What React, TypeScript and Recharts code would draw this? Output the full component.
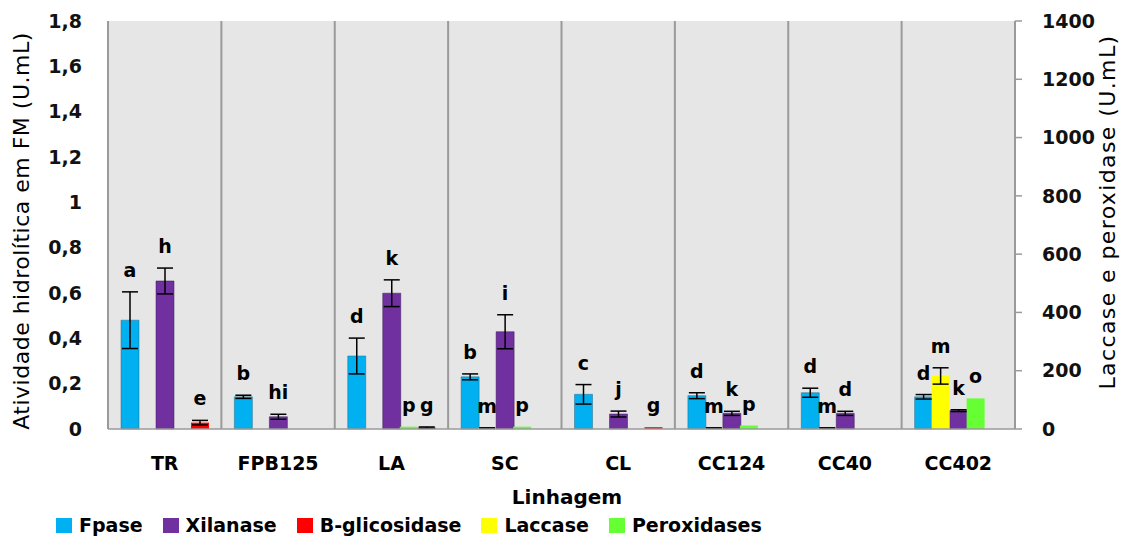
import React from 'react';
import {
  BarChart,
  Bar,
  XAxis,
  YAxis,
  CartesianGrid,
  ErrorBar,
  LabelList,
  Legend,
  ReferenceLine,
} from 'recharts';

const categories = ['TR', 'FPB125', 'LA', 'SC', 'CL', 'CC124', 'CC40', 'CC402'];
const seriesNames = ['Fpase', 'Xilanase', 'B-glicosidase', 'Laccase', 'Peroxidases'];

// Left axis (Atividade hidrolítica, U.mL)
const fpase = [0.48, 0.142, 0.322, 0.23, 0.153, 0.147, 0.16, 0.142];
const fpaseErr = [0.125, 0.007, 0.079, 0.013, 0.043, 0.013, 0.02, 0.01];
const xilanase = [0.653, 0.054, 0.599, 0.429, 0.066, 0.069, 0.069, 0.081];
const xilanaseErr = [0.057, 0.011, 0.059, 0.075, 0.013, 0.009, 0.009, 0.004];
const bglic = [0.028, 0, 0.006, 0, 0.008, 0, 0, 0];
const bglicErr = [0.01, 0, 0.003, 0, 0, 0, 0, 0];

// Right axis (Laccase e peroxidase, U.mL)
const laccase = [0, 0, 0, 3, 0, 3, 3, 182];
const laccaseErr = [0, 0, 0, 1, 0, 1, 1, 28];
const peroxidase = [0, 0, 8, 8, 0, 12, 0, 105];

// Significance letters
const fpaseLetters = ['a', 'b', 'd', 'b', 'c', 'd', 'd', 'd'];
const xilanaseLetters = ['h', 'hi', 'k', 'i', 'j', 'k', 'd', 'k'];
const bglicLetters = ['e', '', 'g', '', 'g', '', '', ''];
const laccaseLetters = ['', '', '', 'm', '', 'm', 'm', 'm'];
const peroxLetters = ['', '', 'p', 'p', '', 'p', '', 'o'];

const leftTicks = [0, 0.2, 0.4, 0.6, 0.8, 1, 1.2, 1.4, 1.6, 1.8];
const rightTicks = [0, 200, 400, 600, 800, 1000, 1200, 1400];

const data = categories.map((c, i) => ({
  name: c,
  fpase: fpase[i],
  fpaseErr: fpaseErr[i],
  fpaseL: fpaseLetters[i],
  xilanase: xilanase[i],
  xilanaseErr: xilanaseErr[i],
  xilanaseL: xilanaseLetters[i],
  bglic: bglic[i],
  bglicErr: bglicErr[i],
  bglicL: bglicLetters[i],
  laccase: laccase[i],
  laccaseErr: laccaseErr[i],
  laccaseL: laccaseLetters[i],
  peroxidase: peroxidase[i],
  peroxL: peroxLetters[i],
}));

const FONT = 'DejaVu Sans';
const GRID = '#9a9a9a';

// LabelList dataKey is the category name; the entry is looked up by it.
const makeLetter = (valKey: string, errKey: string | null, letterKey: string) => (props: any) => {
  const { x, y, width, height, value } = props;
  const d: any = data.find((e) => e.name === value);
  if (!d) return null;
  const letter = d[letterKey];
  const v = d[valKey];
  if (!letter || !v) return null;
  const e = errKey ? d[errKey] || 0 : 0;
  const pxPerUnit = Math.abs(height) / v;
  const top = y - e * pxPerUnit;
  return (
    <text
      x={x + width / 2}
      y={top - 15}
      textAnchor="middle"
      fontFamily={FONT}
      fontSize={19}
      fontWeight="bold"
      fill="#000"
    >
      {letter}
    </text>
  );
};

const fmtLeft = (v: number) =>
  Number.isInteger(v) ? String(v) : v.toFixed(1).replace('.', ',');

const renderLegend = (props: any) => {
  const payload = [...(props.payload || [])].sort(
    (a: any, b: any) => seriesNames.indexOf(a.value) - seriesNames.indexOf(b.value)
  );
  return (
    <div
      style={{
        display: 'flex',
        alignItems: 'center',
        fontFamily: FONT,
        fontSize: 19,
        fontWeight: 'bold',
        color: '#000',
        whiteSpace: 'nowrap',
      }}
    >
      {payload.map((p: any) => (
        <div
          key={p.value}
          style={{ display: 'flex', alignItems: 'center', marginRight: 20 }}
        >
          <span
            style={{
              display: 'inline-block',
              width: 16,
              height: 15,
              background: p.color,
              marginRight: 7,
            }}
          />
          {p.value}
        </div>
      ))}
    </div>
  );
};

export default function App() {
  return (
    <div style={{ width: 1120, height: 531, fontFamily: FONT }}>
      <BarChart
        width={1120}
        height={531}
        data={data}
        margin={{ top: 13, right: 23, left: 20, bottom: 70 }}
        barGap={17}
      >
        <CartesianGrid
          xAxisId="p"
          yAxisId="left"
          fill="#e6e6e6"
          horizontal={false}
          vertical={false}
        />
        <XAxis
          xAxisId="p"
          dataKey="name"
          height={40}
          tickLine={false}
          tickSize={0}
          tickMargin={28}
          axisLine={{ stroke: GRID, strokeWidth: 1.5 }}
          tick={{ fontFamily: FONT, fontSize: 19, fontWeight: 'bold', fill: '#000' }}
          interval={0}
        />
        <XAxis xAxisId="s" dataKey="name" hide />
        <YAxis
          yAxisId="left"
          width={80}
          domain={[0, 1.8]}
          ticks={leftTicks}
          tickFormatter={fmtLeft}
          tickLine={false}
          tickSize={0}
          tickMargin={26}
          axisLine={{ stroke: GRID, strokeWidth: 2 }}
          tick={{ fontFamily: FONT, fontSize: 19, fontWeight: 'bold', fill: '#111' }}
          interval={0}
        />
        <YAxis
          yAxisId="right"
          orientation="right"
          width={90}
          domain={[0, 1400]}
          ticks={rightTicks}
          tickSize={7}
          tickMargin={20}
          tickLine={{ stroke: GRID, strokeWidth: 1.5 }}
          axisLine={{ stroke: GRID, strokeWidth: 2 }}
          tick={{ fontFamily: FONT, fontSize: 19, fontWeight: 'bold', fill: '#111' }}
          interval={0}
        />
        {categories.slice(1).map((c) => (
          <ReferenceLine
            key={c}
            xAxisId="p"
            yAxisId="left"
            x={c}
            position="start"
            stroke={GRID}
            strokeWidth={2}
          />
        ))}
        <Bar
          xAxisId="p"
          yAxisId="left"
          dataKey="fpase"
          name="Fpase"
          fill="#00B0F0"
          stroke="#2a6a86"
          strokeOpacity={0.5}
          strokeWidth={1}
          barSize={18}
          isAnimationActive={false}
        >
          <ErrorBar dataKey="fpaseErr" width={8} stroke="#000" strokeWidth={1.5} direction="y" />
          <LabelList dataKey="name" content={makeLetter('fpase', 'fpaseErr', 'fpaseL')} />
        </Bar>
        <Bar
          xAxisId="p"
          yAxisId="left"
          dataKey="xilanase"
          name="Xilanase"
          fill="#7030A0"
          stroke="#3a1858"
          strokeOpacity={0.5}
          strokeWidth={1}
          barSize={18}
          isAnimationActive={false}
        >
          <ErrorBar dataKey="xilanaseErr" width={8} stroke="#000" strokeWidth={1.5} direction="y" />
          <LabelList dataKey="name" content={makeLetter('xilanase', 'xilanaseErr', 'xilanaseL')} />
        </Bar>
        <Bar
          xAxisId="p"
          yAxisId="left"
          dataKey="bglic"
          name="B-glicosidase"
          fill="#FF0000"
          barSize={18}
          isAnimationActive={false}
        >
          <ErrorBar dataKey="bglicErr" width={8} stroke="#000" strokeWidth={1.5} direction="y" />
          <LabelList dataKey="name" content={makeLetter('bglic', 'bglicErr', 'bglicL')} />
        </Bar>
        <Bar
          xAxisId="s"
          yAxisId="right"
          dataKey="laccase"
          name="Laccase"
          fill="#FFFF00"
          barSize={18}
          isAnimationActive={false}
        >
          <ErrorBar dataKey="laccaseErr" width={8} stroke="#000" strokeWidth={1.5} direction="y" />
          <LabelList dataKey="name" content={makeLetter('laccase', 'laccaseErr', 'laccaseL')} />
        </Bar>
        <Bar
          xAxisId="s"
          yAxisId="right"
          dataKey="peroxidase"
          name="Peroxidases"
          fill="#66FF33"
          barSize={18}
          isAnimationActive={false}
        >
          <LabelList dataKey="name" content={makeLetter('peroxidase', null, 'peroxL')} />
        </Bar>
        <Legend
          layout="horizontal"
          verticalAlign="middle"
          align="center"
          wrapperStyle={{ top: 506, left: 48, width: 820 }}
          content={renderLegend}
        />
        <text
          x={21}
          y={223}
          transform="rotate(-90 21 223)"
          textAnchor="middle"
          fontFamily={FONT}
          fontSize={22}
          letterSpacing={0.5}
          fill="#000"
        >
          Atividade hidrolítica em FM (U.mL)
        </text>
        <text
          x={1107}
          y={204}
          transform="rotate(-90 1107 204)"
          textAnchor="middle"
          fontFamily={FONT}
          fontSize={22}
          letterSpacing={1.4}
          fill="#000"
        >
          Laccase e peroxidase (U.mL)
        </text>
        <text
          x={559}
          y={496}
          textAnchor="middle"
          fontFamily={FONT}
          fontSize={20}
          fontWeight="bold"
          fill="#000"
        >
          Linhagem
        </text>
      </BarChart>
    </div>
  );
}
